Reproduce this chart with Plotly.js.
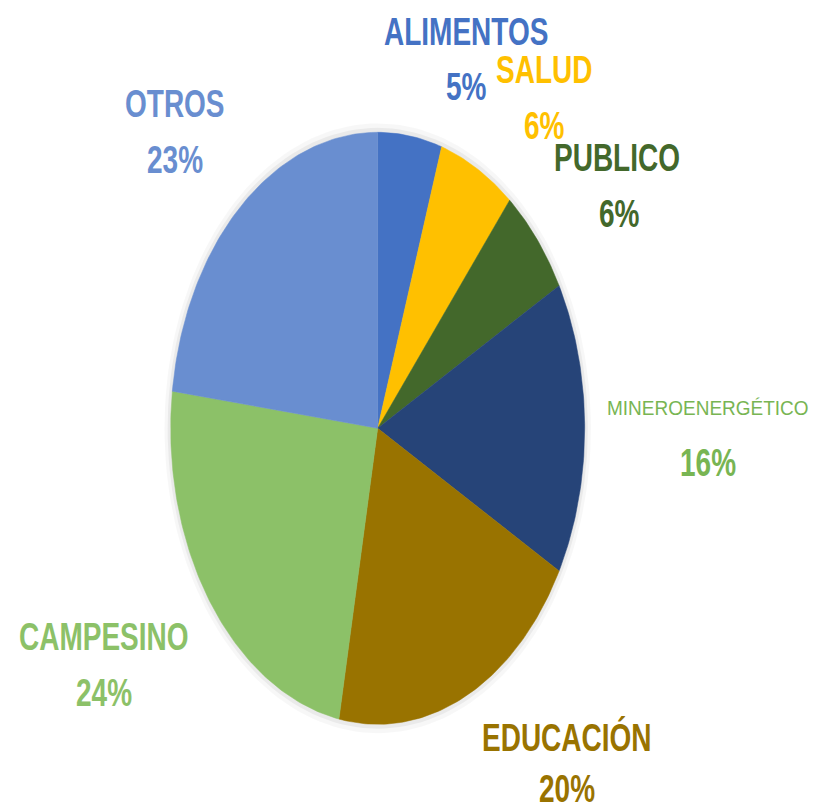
<!DOCTYPE html>
<html>
<head>
<meta charset="utf-8">
<script src="https://cdn.plot.ly/plotly-3.0.1.min.js"></script>
<style>html,body{margin:0;padding:0;background:#fff;}#chart{width:815px;height:812px;}</style>
</head>
<body>
<div id="chart"></div>
<script>
// ---- data ----
var categories = ["ALIMENTOS", "SALUD", "PUBLICO", "MINEROENERGÉTICO", "EDUCACIÓN", "CAMPESINO", "OTROS"];
var values = [5, 6, 6, 16, 20, 24, 23];
var pctLabels = ["5%", "6%", "6%", "16%", "20%", "24%", "23%"];

// ---- styles ----
var sliceColors = ["#4472C4", "#FFC000", "#43682B", "#264478", "#997300", "#8CC168", "#698ED0"];
var labelColors = ["#4472C4", "#FFC000", "#43682B", "#78B553", "#997300", "#8CC168", "#698ED0"];
// label placement (pixel centres of name / percent lines)
var namePos = [[466,31],[544,69],[617,157],[708,407],[567,737],[104,636],[175,103]];
var pctPos  = [[466,87],[544,126],[619,213],[708,462],[567,788],[104,692],[175,160]];
var nameSize = [28,28,28,19,28,28,28];
var nameWeight = [700,700,700,400,700,700,700];
var nameStretch = [1.4,1.4,1.4,1.1,1.4,1.4,1.4];
var pctSize = 28, pctStretch = 1.4;

var W = 815, H = 812;
var cx = 377.7, cy = 428.3, rx = 207, ry = 296;

var total = values.reduce(function(a,b){return a+b;},0);
var traces = [];

// soft shadow behind the pie
[[1.03, "rgba(0,0,0,0.03)"], [1.015, "rgba(0,0,0,0.05)"]].forEach(function(sh){
  var sx = [], sy = [];
  for (var k = 0; k <= 180; k++) {
    var a = k / 180 * 2 * Math.PI;
    sx.push(sh[0] * Math.sin(a)); sy.push(sh[0] * Math.cos(a));
  }
  traces.push({type: "scatter", mode: "lines", x: sx, y: sy, fill: "toself",
    fillcolor: sh[1], line: {width: 0}, hoverinfo: "skip", showlegend: false});
});

var cum = 0;
for (var i = 0; i < values.length; i++) {
  var a0 = cum / total * 2 * Math.PI;
  cum += values[i];
  var a1 = cum / total * 2 * Math.PI;
  var n = Math.max(8, Math.round(values[i] * 4));
  var xs = [0], ys = [0];
  for (var k = 0; k <= n; k++) {
    var a = a0 + (a1 - a0) * k / n;
    xs.push(Math.sin(a));
    ys.push(Math.cos(a));
  }
  xs.push(0); ys.push(0);
  traces.push({
    type: "scatter", mode: "lines", x: xs, y: ys,
    fill: "toself", fillcolor: sliceColors[i],
    line: {width: 0.5, color: sliceColors[i]},
    name: categories[i], hoverinfo: "name", showlegend: false
  });
}

var annotations = [];
var stretch = [];
var fam = "'Liberation Sans', Arial, sans-serif";
for (var j = 0; j < categories.length; j++) {
  annotations.push({
    xref: "paper", yref: "paper",
    x: namePos[j][0] / W, y: 1 - namePos[j][1] / H,
    xanchor: "center", yanchor: "middle", showarrow: false,
    text: categories[j],
    font: {family: fam, size: nameSize[j], color: labelColors[j], weight: nameWeight[j]}
  });
  stretch.push(nameStretch[j]);
  annotations.push({
    xref: "paper", yref: "paper",
    x: pctPos[j][0] / W, y: 1 - pctPos[j][1] / H,
    xanchor: "center", yanchor: "middle", showarrow: false,
    text: pctLabels[j],
    font: {family: fam, size: pctSize, color: labelColors[j], weight: 700}
  });
  stretch.push(pctStretch);
}

var layout = {
  width: W, height: H,
  margin: {l: 0, r: 0, t: 0, b: 0},
  paper_bgcolor: "#fff", plot_bgcolor: "#fff",
  showlegend: false,
  xaxis: {range: [-cx / rx, (W - cx) / rx], visible: false, fixedrange: true},
  yaxis: {range: [-(H - cy) / ry, cy / ry], visible: false, fixedrange: true},
  annotations: annotations
};

Plotly.newPlot("chart", traces, layout, {staticPlot: true, displayModeBar: false}).then(function(gd){
  // stretch label text vertically, as in the reference image
  var anns = gd.querySelectorAll("g.annotation");
  anns.forEach(function(g){
    var idx = +g.getAttribute("data-index");
    var s = stretch[idx] || 1;
    var txt = g.querySelector("text.annotation-text");
    if (!txt || s === 1) return;
    var wrap = document.createElementNS("http://www.w3.org/2000/svg", "g");
    txt.parentNode.insertBefore(wrap, txt);
    wrap.appendChild(txt);
    var bb = wrap.getBBox();
    var mx = bb.x + bb.width / 2, my = bb.y + bb.height / 2;
    wrap.setAttribute("transform", "translate(" + mx + "," + my + ") scale(1," + s + ") translate(" + (-mx) + "," + (-my) + ")");
  });
});
</script>
</body>
</html>
